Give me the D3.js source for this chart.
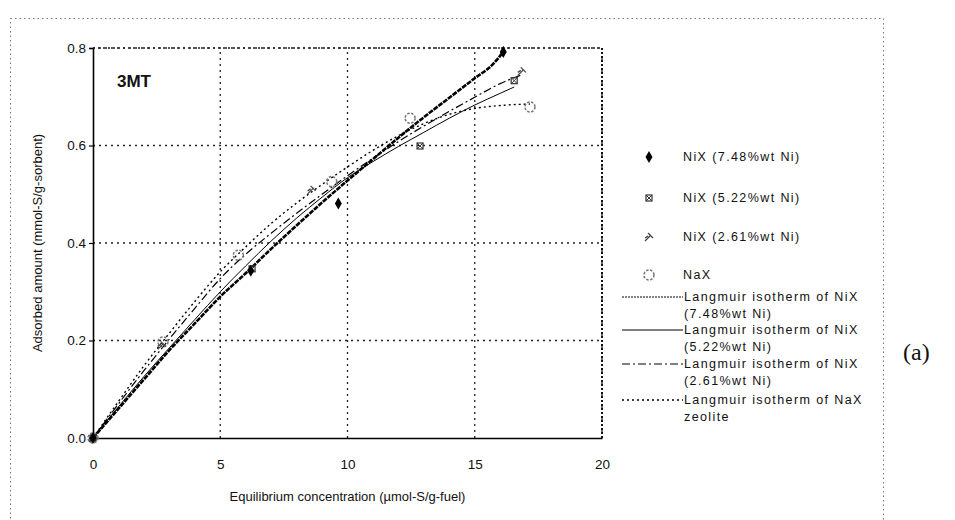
<!DOCTYPE html>
<html>
<head>
<meta charset="utf-8">
<script src="https://cdn.jsdelivr.net/npm/d3@7"></script>
<style>
  html, body { margin: 0; padding: 0; background: #fff; }
  svg { display: block; font-family: "Liberation Sans", Arial, sans-serif; }
</style>
</head>
<body>
<svg id="chart" width="955" height="520"></svg>
<script>
// Axis ticks
const xTicks = [0, 5, 10, 15, 20];
const yTicks = [0, 0.2, 0.4, 0.6, 0.8];

// Measured points [equilibrium concentration, adsorbed amount]
const ni748Points = [[0, 0], [6.2, 0.343], [9.64, 0.481], [16.12, 0.792]];
const ni522Points = [[0, 0], [6.25, 0.347], [12.85, 0.599], [16.55, 0.733]];
const ni261Points = [[0, 0], [2.7, 0.19], [8.59, 0.509], [16.85, 0.752]];
const naxPoints   = [[0, 0], [2.75, 0.197], [5.71, 0.375], [9.38, 0.526], [12.46, 0.656], [17.17, 0.679]];

// Langmuir isotherm curves
const ni748Fit = [[0, 0], [1, 0.06], [2, 0.12], [3, 0.18], [4, 0.235], [5, 0.29], [6, 0.338], [7, 0.388],
  [8, 0.436], [9, 0.483], [10, 0.528], [11, 0.572], [12, 0.616], [13, 0.658], [14, 0.698], [15, 0.738],
  [15.7, 0.766], [16.12, 0.792]];
const ni522Fit = [[0, 0], [1, 0.064], [2, 0.126], [3, 0.185], [4, 0.243], [5, 0.3], [6, 0.353], [7, 0.404],
  [8, 0.451], [9, 0.494], [10, 0.534], [11, 0.567], [12, 0.598], [13, 0.627], [14, 0.656], [15, 0.683],
  [16, 0.707], [16.55, 0.72]];
const ni261Fit = [[0, 0], [1, 0.07], [2, 0.138], [3, 0.203], [4, 0.266], [5, 0.327], [6, 0.377], [7, 0.42],
  [8, 0.461], [9, 0.5], [10, 0.538], [11, 0.574], [12, 0.608], [13, 0.64], [14, 0.67], [15, 0.699],
  [16, 0.727], [16.85, 0.745]];
const naxFit = [[0, 0], [1, 0.075], [2, 0.148], [3, 0.215], [4, 0.28], [5, 0.341], [6, 0.392], [7, 0.44],
  [8, 0.482], [9, 0.52], [10, 0.556], [11, 0.59], [12, 0.62], [13, 0.645], [14, 0.664], [15, 0.676],
  [16, 0.682], [17.17, 0.685]];

// Legend texts
const markerLabels = ["NiX (7.48%wt Ni)", "NiX (5.22%wt Ni)", "NiX (2.61%wt Ni)", "NaX"];
const lineLabels = [
  ["Langmuir isotherm of NiX", "(7.48%wt Ni)"],
  ["Langmuir isotherm of NiX", "(5.22%wt Ni)"],
  ["Langmuir isotherm of NiX", "(2.61%wt Ni)"],
  ["Langmuir isotherm of NaX", "zeolite"]
];

const svg = d3.select("#chart");

// outer dotted frame
svg.append("rect").attr("x", 10.5).attr("y", 18.5).attr("width", 873).attr("height", 520)
  .attr("fill", "none").attr("stroke", "#777").attr("stroke-width", 1).attr("stroke-dasharray", "1.5,3");

const x = d3.scaleLinear().domain([0, 20]).range([93, 602]);
const y = d3.scaleLinear().domain([0, 0.8]).range([438, 48]);

// gridlines
const grid = svg.append("g");
grid.selectAll("line.v").data(xTicks.filter(d => d > 0)).join("line")
  .attr("x1", d => x(d)).attr("x2", d => x(d)).attr("y1", y(0)).attr("y2", y(0.8))
  .attr("stroke", "#222").attr("stroke-width", 1.3).attr("stroke-dasharray", "2,4");
grid.selectAll("line.h").data(yTicks.filter(d => d > 0)).join("line")
  .attr("x1", x(0)).attr("x2", x(20)).attr("y1", d => y(d)).attr("y2", d => y(d))
  .attr("stroke", "#222").attr("stroke-width", 1.3).attr("stroke-dasharray", "2,4");

// axes
const xAxis = d3.axisBottom(x).tickValues(xTicks).tickFormat(d3.format("d")).tickSize(0).tickPadding(21);
const yAxis = d3.axisLeft(y).tickValues(yTicks).tickFormat(d3.format(".1f")).tickSize(4).tickPadding(3);
const gx = svg.append("g").attr("transform", `translate(0,${y(0)})`).call(xAxis);
const gy = svg.append("g").attr("transform", `translate(${x(0)},0)`).call(yAxis);
[gx, gy].forEach(g => {
  g.select(".domain").attr("stroke", "#000").attr("stroke-width", 1.6);
  g.selectAll(".tick line").attr("stroke", "#000").attr("stroke-width", 1.2);
  g.selectAll("text").attr("font-size", 13.5).attr("fill", "#111")
    .attr("font-family", "Liberation Sans, Arial, sans-serif");
});

// axis titles
svg.append("text").attr("x", x(10)).attr("y", 501).attr("text-anchor", "middle")
  .attr("font-size", 13).attr("fill", "#111").text("Equilibrium concentration (µmol-S/g-fuel)");
svg.append("text").attr("transform", `translate(42,${y(0.4)}) rotate(-90)`).attr("text-anchor", "middle")
  .attr("font-size", 13).attr("fill", "#111").text("Adsorbed amount (mmol-S/g-sorbent)");

// panel labels
svg.append("text").attr("x", 117).attr("y", 87).attr("font-size", 17).attr("font-weight", "bold")
  .attr("fill", "#111").text("3MT");
svg.append("text").attr("x", 903).attr("y", 360).attr("font-size", 24)
  .attr("font-family", "Liberation Serif, Times New Roman, serif").attr("fill", "#111").text("(a)");

// fitted curves
const line = d3.line().x(d => x(d[0])).y(d => y(d[1])).curve(d3.curveMonotoneX);
const fitStyles = [
  { data: ni748Fit, width: 2.6, dash: "5,1" },
  { data: ni522Fit, width: 1, dash: null },
  { data: ni261Fit, width: 1.2, dash: "8,3,2,3" },
  { data: naxFit, width: 1.4, dash: "2,3" }
];
svg.append("g").selectAll("path").data(fitStyles).join("path")
  .attr("d", d => line(d.data)).attr("fill", "none").attr("stroke", "#000")
  .attr("stroke-width", d => d.width).attr("stroke-dasharray", d => d.dash);

// plot frame (top / right dotted)
svg.append("line").attr("x1", x(0)).attr("x2", x(20)).attr("y1", y(0.8)).attr("y2", y(0.8))
  .attr("stroke", "#222").attr("stroke-width", 1.4).attr("stroke-dasharray", "2,3");
svg.append("line").attr("x1", x(20)).attr("x2", x(20)).attr("y1", y(0.8)).attr("y2", y(0))
  .attr("stroke", "#111").attr("stroke-width", 2).attr("stroke-dasharray", "2,2");

// marker drawers
function drawDiamond(g) {
  g.append("path").attr("d", d3.symbol(d3.symbolDiamond, 42)()).attr("fill", "#000");
}
function drawBoxX(g) {
  g.append("rect").attr("x", -3).attr("y", -3).attr("width", 6).attr("height", 6)
    .attr("fill", "none").attr("stroke", "#333").attr("stroke-width", 1.2);
  g.append("path").attr("d", "M-3,-3L3,3M-3,3L3,-3").attr("stroke", "#333").attr("stroke-width", 1);
}
function drawSlash(g) {
  g.append("path").attr("d", "M-4,4L2,-2M-1,-4L4,1M-4,1L-1,-1")
    .attr("fill", "none").attr("stroke", "#444").attr("stroke-width", 1.3);
}
function drawRing(g) {
  g.append("circle").attr("r", 5).attr("fill", "none").attr("stroke", "#777")
    .attr("stroke-width", 1.5).attr("stroke-dasharray", "2.5,1.5");
}

const seriesMarks = [
  { data: naxPoints, draw: drawRing },
  { data: ni261Points, draw: drawSlash },
  { data: ni522Points, draw: drawBoxX },
  { data: ni748Points, draw: drawDiamond }
];
seriesMarks.forEach(s => {
  svg.append("g").selectAll("g").data(s.data).join("g")
    .attr("transform", d => `translate(${x(d[0])},${y(d[1])})`)
    .each(function () { s.draw(d3.select(this)); });
});

// legend: markers
const markerDraws = [drawDiamond, drawBoxX, drawSlash, drawRing];
const legendRowsY = [157, 198, 237, 275];
const lg = svg.append("g").attr("font-size", 12.5).attr("letter-spacing", 1.4).attr("fill", "#111");
markerLabels.forEach((label, i) => {
  const g = lg.append("g").attr("transform", `translate(649,${legendRowsY[i]})`);
  markerDraws[i](g);
  lg.append("text").attr("x", 683).attr("y", legendRowsY[i] + 4).text(label);
});

// legend: curves
const lineRowsY = [297, 330, 364, 400];
lineLabels.forEach((pair, i) => {
  const st = fitStyles[i];
  lg.append("line").attr("x1", 622).attr("x2", 683).attr("y1", lineRowsY[i]).attr("y2", lineRowsY[i])
    .attr("stroke", "#000").attr("stroke-width", i === 0 ? 1 : st.width)
    .attr("stroke-dasharray", i === 0 ? "2,1" : st.dash);
  lg.append("text").attr("x", 684).attr("y", lineRowsY[i] + 4).text(pair[0]);
  lg.append("text").attr("x", 684).attr("y", lineRowsY[i] + 21).text(pair[1]);
});
</script>
</body>
</html>
